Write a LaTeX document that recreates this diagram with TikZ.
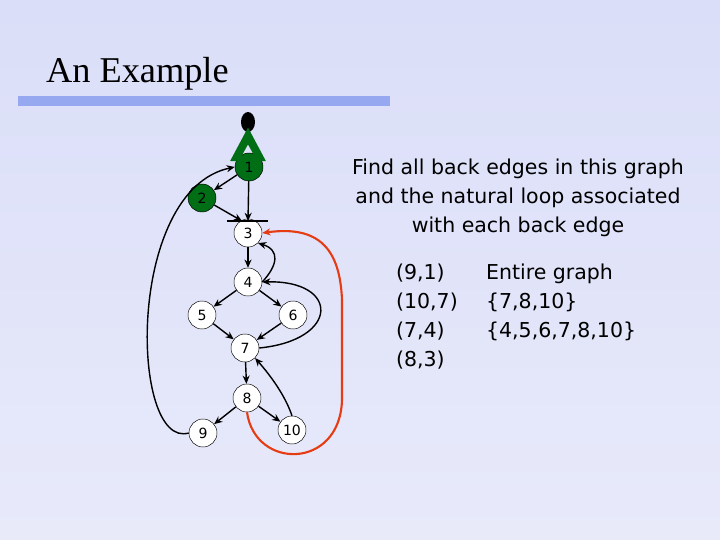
\documentclass[tikz,border=0pt]{standalone}
\usepackage{fontspec}
\setmainfont{DejaVu Sans}
\newfontfamily\titlefont{Liberation Serif}
\usetikzlibrary{arrows.meta}
\definecolor{slidebg}{RGB}{232,234,250}
\definecolor{slidetop}{RGB}{218,222,248}
\definecolor{titlebar}{RGB}{150,168,240}
\definecolor{entry}{RGB}{0,110,20}
\definecolor{backred}{RGB}{230,60,20}

\begin{document}
\begin{tikzpicture}[x=0.03cm,y=-0.03cm,
		vtx/.style={circle,draw,fill=white,minimum size=28*0.03cm,inner sep=0pt,font=\fontsize{12}{12}\selectfont},
		entryvtx/.style={vtx,fill=entry},
		edge/.style={-{Stealth[length=7pt,width=6pt]},line width=1.2pt},
		txt/.style={align=left,font=\fontsize{17.5}{24.8}\selectfont}]
		\shade[top color=slidetop,bottom color=slidebg] (0,0) rectangle (720,540);
		\useasboundingbox (0,0) rectangle (720,540);
		
		\node[anchor=base west,font=\titlefont\fontsize{31}{31}\selectfont] (title) at (42,83) {An Example};
		\fill[titlebar] (18,96) rectangle (390,106);
		
		\node[entryvtx] (n1) at (249,167) {1};
		\node[entryvtx] (n2) at (202,198) {2};
		\node[vtx] (n3) at (248,233) {3};
		\node[vtx] (n4) at (248,282) {4};
		\node[vtx] (n5) at (202,315) {5};
		\node[vtx] (n6) at (293,315) {6};
		\node[vtx] (n7) at (245,348) {7};
		\node[vtx] (n8) at (247,398) {8};
		\node[vtx] (n9) at (203,433) {9};
		\node[vtx] (n10) at (292,430) {10};
		
		% start marker and join bar
		\fill (248,122) ellipse (7 and 10);
		\draw[entry,line width=2pt,fill=entry] (232,160) -- (248,130) -- (264,160) -- (258,160) -- (248,142) -- (238,160) -- cycle;
		\coordinate (bar) at (248,221);
		\draw[line width=2.5pt] (227,221) -- (268,221);
		
		\draw[edge] (n1) -- (n2);
		\draw[edge] (n1) -- (bar);
		\draw[edge] (n2) -- (242,221);
		\draw[edge] (n3) -- (n4);
		\draw[edge] (n4) -- (n5);
		\draw[edge] (n4) -- (n6);
		\draw[edge] (n5) -- (n7);
		\draw[edge] (n6) -- (n7);
		\draw[edge] (n7) -- (n8);
		\draw[edge] (n8) -- (n9);
		\draw[edge] (n8) -- (n10);
		
		% back edges
		\draw[edge] (n4.east) .. controls (278,265) and (280,250) .. (n3.south east);
		\draw[edge] (n7.east) .. controls (340,340) and (340,280) .. (n4.east);
		\draw[edge] (n10.north) .. controls (285,395) and (270,375) .. (n7.south east);
		\draw[edge] (n9.west) .. controls (130,450) and (125,190) .. (n1.west);
		\draw[edge,backred,line width=1.8pt] (n8.south) .. controls (255,470) and (340,470) .. (342,400)
			-- (342,300) .. controls (340,250) and (320,225) .. (n3.east);
		
		\node[txt,align=center] (task) at (518,198) {Find all back edges in this graph\\and the natural loop associated\\with each back edge};
		\node[txt,anchor=north west] (edges) at (392,260) {(9,1)\\(10,7)\\(7,4)\\(8,3)};
		\node[txt,anchor=north west] (loops) at (482,260) {Entire graph\\\{7,8,10\}\\\{4,5,6,7,8,10\}};
	\end{tikzpicture}
\end{document}
